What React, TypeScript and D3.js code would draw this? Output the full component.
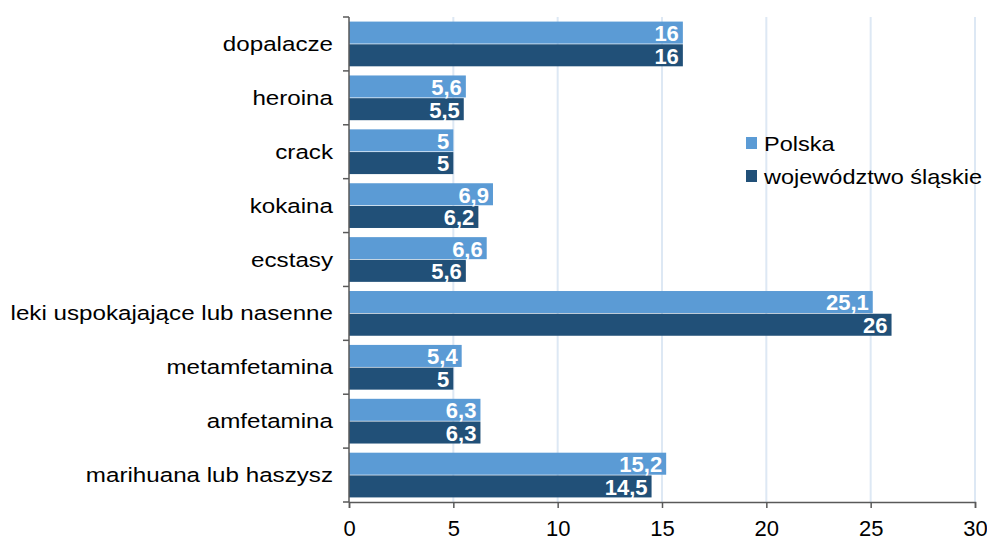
import React, { useEffect, useRef } from 'react';
import * as d3 from 'd3';

const categories = [
  'dopalacze',
  'heroina',
  'crack',
  'kokaina',
  'ecstasy',
  'leki uspokajające lub nasenne',
  'metamfetamina',
  'amfetamina',
  'marihuana lub haszysz',
];
const polska = [16, 5.6, 5, 6.9, 6.6, 25.1, 5.4, 6.3, 15.2];
const slaskie = [16, 5.5, 5, 6.2, 5.6, 26, 5, 6.3, 14.5];
const seriesNames = ['Polska', 'województwo śląskie'];
const seriesColors = ['#5b9bd5', '#215078'];
const xTicks = [0, 5, 10, 15, 20, 25, 30];

const W = 987;
const H = 541;

const App = () => {
  const svgRef = useRef<SVGSVGElement>(null);

  useEffect(() => {
    if (!svgRef.current) return;
    const svg = d3.select(svgRef.current);
    svg.selectAll('*').remove();

    const margin = { top: 17, right: 12, bottom: 39, left: 349 };
    const innerWidth = W - margin.left - margin.right;
    const innerHeight = H - margin.top - margin.bottom;
    const font = 'Arial, "Liberation Sans", sans-serif';

    const g = svg.append('g').attr('transform', `translate(${margin.left}, ${margin.top})`);

    const x = d3.scaleLinear().domain([0, 30]).range([0, innerWidth]);
    const y0 = d3.scaleBand().domain(categories).range([0, innerHeight]).paddingInner(0.17).paddingOuter(0.085);
    const y1 = d3.scaleBand().domain(['0', '1']).range([0, y0.bandwidth()]).paddingInner(0.03);

    // grid
    g.selectAll('.grid')
      .data(xTicks.filter(t => t > 0))
      .join('line')
      .attr('x1', d => x(d))
      .attr('x2', d => x(d))
      .attr('y1', 0)
      .attr('y2', innerHeight)
      .attr('stroke', '#dde8f4')
      .attr('stroke-width', 2);

    const rows = categories.map((c, i) => ({ c, vals: [polska[i], slaskie[i]] }));

    const grp = g.selectAll('.row')
      .data(rows)
      .join('g')
      .attr('transform', d => `translate(0, ${y0(d.c)})`);

    grp.selectAll('rect')
      .data(d => d.vals.map((v, k) => ({ v, k })))
      .join('rect')
      .attr('x', 0)
      .attr('y', d => y1(String(d.k))!)
      .attr('width', d => x(d.v))
      .attr('height', y1.bandwidth())
      .attr('fill', d => seriesColors[d.k]);

    grp.selectAll('text')
      .data(d => d.vals.map((v, k) => ({ v, k })))
      .join('text')
      .attr('x', d => x(d.v) - 4)
      .attr('y', d => y1(String(d.k))! + y1.bandwidth() / 2)
      .attr('dy', '0.38em')
      .attr('text-anchor', 'end')
      .attr('fill', '#fff')
      .attr('font-family', font)
      .attr('font-weight', 'bold')
      .attr('font-size', 22)
      .text(d => String(d.v).replace('.', ','));

    // left axis
    const band = innerHeight / categories.length;
    const yAxis = g.append('g');
    yAxis.append('line')
      .attr('x1', 0).attr('x2', 0).attr('y1', 0).attr('y2', innerHeight)
      .attr('stroke', '#595959').attr('stroke-width', 1.5);
    yAxis.selectAll('.tick')
      .data(d3.range(categories.length + 1))
      .join('line')
      .attr('x1', -6).attr('x2', 0)
      .attr('y1', d => d * band).attr('y2', d => d * band)
      .attr('stroke', '#595959').attr('stroke-width', 1.5);
    // labels in the source look horizontally stretched
    yAxis.selectAll('text')
      .data(categories)
      .join('text')
      .attr('transform', d => `translate(-16, ${y0(d)! + y0.bandwidth() / 2}) scale(1.24, 1)`)
      .attr('dy', '0.36em')
      .attr('text-anchor', 'end')
      .attr('font-family', font)
      .attr('font-size', 19.5)
      .attr('fill', '#000')
      .text(d => d);

    // bottom axis
    const xAxis = g.append('g').attr('transform', `translate(0, ${innerHeight})`)
      .call(d3.axisBottom(x).tickValues(xTicks).tickSize(6).tickPadding(12));
    xAxis.select('.domain').attr('stroke', '#595959').attr('stroke-width', 1.5);
    xAxis.selectAll('.tick line').attr('stroke', '#595959').attr('stroke-width', 1.5);
    xAxis.selectAll('.tick text')
      .attr('font-family', font)
      .attr('font-size', 22)
      .attr('fill', '#000');

    // legend
    const legend = svg.append('g').attr('transform', 'translate(746, 143)');
    seriesNames.forEach((name, i) => {
      const item = legend.append('g').attr('transform', `translate(0, ${i * 33})`);
      item.append('rect').attr('x', 0).attr('y', -6).attr('width', 11).attr('height', 12).attr('fill', seriesColors[i]);
      item.append('text')
        .attr('transform', 'translate(18, 0) scale(1.12, 1)')
        .attr('dy', '0.36em')
        .attr('font-family', font).attr('font-size', 21).attr('fill', '#000')
        .text(name);
    });
  }, []);

  return <svg ref={svgRef} width={W} height={H} style={{ display: 'block', position: 'absolute', left: 0, top: 0 }} />;
};

export default App;
